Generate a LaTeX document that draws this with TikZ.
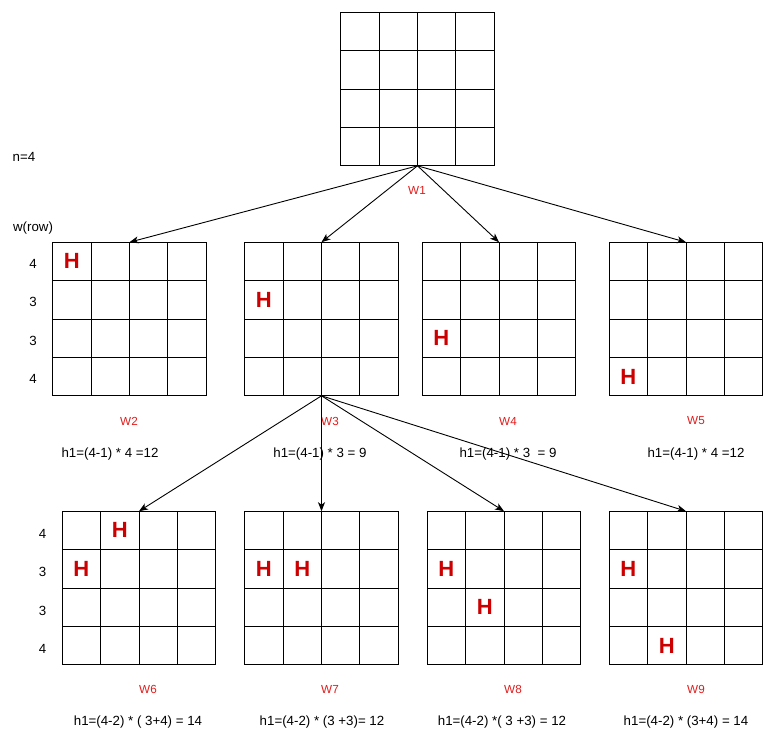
\documentclass[tikz,border=0pt]{standalone}
\usepackage{fontspec}
\setmainfont{Liberation Sans}
\usetikzlibrary{arrows.meta,calc}
\definecolor{hred}{HTML}{CC0000}
\definecolor{wred}{HTML}{E31B1B}
\begin{document}
\begin{tikzpicture}[x=1pt,y=-1pt,
  gridbox/.style={draw=black, line width=1pt, minimum width=153.6pt, minimum height=153.6pt, inner sep=0pt, outer sep=0pt},
  gridline/.style={draw=black, line width=1pt},
  hmark/.style={text=hred, inner sep=0pt, font=\fontsize{22}{24}\selectfont\bfseries},
  wlabel/.style={text=wred, inner sep=0pt, font=\fontsize{11.7}{13}\selectfont},
  formula/.style={inner sep=0pt, font=\fontsize{13.3}{15}\selectfont},
  rowlab/.style={inner sep=0pt, font=\fontsize{13.3}{15}\selectfont},
  conn/.style={-{Stealth[length=9pt,width=7pt,inset=2.5pt]}, line width=0.9pt}]
\useasboundingbox (0,0) rectangle (763,732);

% grids
\node[gridbox] (w1) at (417.5,89) {};
\node[gridbox] (w2) at (129.5,319) {};
\node[gridbox] (w3) at (321.5,319) {};
\node[gridbox] (w4) at (499,319) {};
\node[gridbox] (w5) at (686,319) {};
\node[gridbox] (w6) at (139,588) {};
\node[gridbox] (w7) at (321.5,588) {};
\node[gridbox] (w8) at (504,588) {};
\node[gridbox] (w9) at (686,588) {};

\foreach \g in {w1,w2,w3,w4,w5,w6,w7,w8,w9} {
  \foreach \f in {0.25,0.5,0.75} {
    \draw[gridline] ($(\g.north west)!\f!(\g.north east)$) -- ($(\g.south west)!\f!(\g.south east)$);
    \draw[gridline] ($(\g.north west)!\f!(\g.south west)$) -- ($(\g.north east)!\f!(\g.south east)$);
  }
}

% H marks
\node[hmark] (h2a) at ($(w2.north west)+(19.2,19.2)$) {H};
\node[hmark] (h3a) at ($(w3.north west)+(19.2,57.6)$) {H};
\node[hmark] (h4a) at ($(w4.north west)+(19.2,96)$) {H};
\node[hmark] (h5a) at ($(w5.north west)+(19.2,134.4)$) {H};
\node[hmark] (h6a) at ($(w6.north west)+(57.6,19.2)$) {H};
\node[hmark] (h6b) at ($(w6.north west)+(19.2,57.6)$) {H};
\node[hmark] (h7a) at ($(w7.north west)+(19.2,57.6)$) {H};
\node[hmark] (h7b) at ($(w7.north west)+(57.6,57.6)$) {H};
\node[hmark] (h8a) at ($(w8.north west)+(19.2,57.6)$) {H};
\node[hmark] (h8b) at ($(w8.north west)+(57.6,96)$) {H};
\node[hmark] (h9a) at ($(w9.north west)+(19.2,57.6)$) {H};
\node[hmark] (h9b) at ($(w9.north west)+(57.6,134.4)$) {H};

% side labels
\node[rowlab] (n4) at (24,157) {n=4};
\node[rowlab] (wrow) at (33,228) {w(row)};
\node[rowlab] (r1) at (33,264) {4};
\node[rowlab] (r2) at (33,302) {3};
\node[rowlab] (r3) at (33,341) {3};
\node[rowlab] (r4) at (33,379) {4};
\node[rowlab] (s1) at (42.5,534) {4};
\node[rowlab] (s2) at (42.5,572) {3};
\node[rowlab] (s3) at (42.5,611) {3};
\node[rowlab] (s4) at (42.5,649) {4};

% W labels
\node[wlabel] (l1) at (417,190) {W1};
\node[wlabel] (l2) at (129,421) {W2};
\node[wlabel] (l3) at (330,421) {W3};
\node[wlabel] (l4) at (508,421) {W4};
\node[wlabel] (l5) at (696,421) {W5};
\node[wlabel] (l6) at (148,689) {W6};
\node[wlabel] (l7) at (330,689) {W7};
\node[wlabel] (l8) at (513,689) {W8};
\node[wlabel] (l9) at (696,689) {W9};

% formulas
\node[formula] (f2) at (110,454) {h1=(4-1) * 4 =12};
\node[formula] (f3) at (320,454) {h1=(4-1) * 3 = 9};
\node[formula] (f4) at (508,454) {h1=(4-1) * 3 \ = 9};
\node[formula] (f5) at (696,454) {h1=(4-1) * 4 =12};
\node[formula] (f6) at (138,722) {h1=(4-2) * ( 3+4) = 14};
\node[formula] (f7) at (322,722) {h1=(4-2) * (3 +3)= 12};
\node[formula] (f8) at (502,722) {h1=(4-2) *( 3 +3) = 12};
\node[formula] (f9) at (686,722) {h1=(4-2) * (3+4) = 14};

% connectors
\draw[conn] (w1.south) -- (w2.north);
\draw[conn] (w1.south) -- (w3.north);
\draw[conn] (w1.south) -- (w4.north);
\draw[conn] (w1.south) -- (w5.north);
\draw[conn] (w3.south) -- (w6.north);
\draw[conn] (w3.south) -- (w7.north);
\draw[conn] (w3.south) -- (w8.north);
\draw[conn] (w3.south) -- (w9.north);
\end{tikzpicture}
\end{document}
